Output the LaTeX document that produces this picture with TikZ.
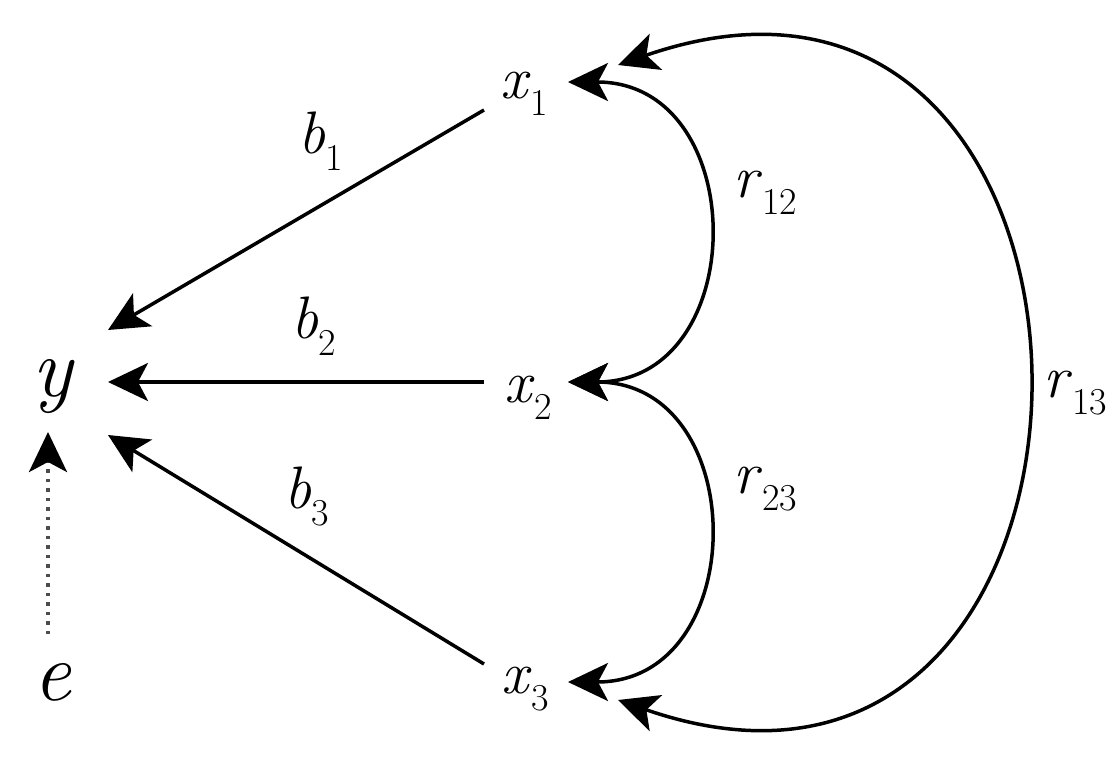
\documentclass[tikz,border=0pt]{standalone}
\usetikzlibrary{arrows.meta}
\newcommand{\vlab}[2]{\textit{#1}\raisebox{-17pt}{\fontsize{38}{40}\selectfont #2}}
\tikzset{
  lbl/.style={inner sep=0pt, anchor=base west, font=\fontsize{60}{62}\selectfont},
  big/.style={inner sep=0pt, anchor=base, font=\fontsize{84}{86}\selectfont\itshape},
  con/.style={line width=3.5pt, -{Stealth[length=40pt,width=38pt,inset=10pt]}},
  dcon/.style={line width=3.5pt, {Stealth[length=40pt,width=38pt,inset=10pt]}-{Stealth[length=40pt,width=38pt,inset=10pt]}},
  dotcon/.style={line width=3.8pt, draw=black!70, dash pattern=on 3.5pt off 6pt, -{Stealth[length=40pt,width=38pt,inset=10pt,black]}}
}
\begin{document}
\begin{tikzpicture}[x=1pt,y=-1pt]
\useasboundingbox (0,0) rectangle (1109,769);
% main nodes
\node[big] (y) at (52,396) {y};
\node[big] (e) at (52,700) {e};
\node[lbl] (x1) at (500,98) {\vlab{x}{1}};
\node[lbl] (x2) at (504,402) {\vlab{x}{2}};
\node[lbl] (x3) at (501,693) {\vlab{x}{3}};
% labels
\node[lbl] (b1) at (298,153) {\vlab{b}{1}};
\node[lbl] (b2) at (291,338) {\vlab{b}{2}};
\node[lbl] (b3) at (284,508) {\vlab{b}{3}};
\node[lbl] (r12) at (733,197) {\vlab{r}{12}};
\node[lbl] (r23) at (733,493) {\vlab{r}{23}};
\node[lbl] (r13) at (1043,397) {\vlab{r}{13}};
% endpoints
\coordinate (x1w) at (484,110);
\coordinate (x2w) at (484,382);
\coordinate (x3w) at (484,664);
\coordinate (yne) at (108,330);
\coordinate (ye) at (108,382);
\coordinate (yse) at (108,435);
\coordinate (eN) at (48,634);
\coordinate (yS) at (48,432);
\coordinate (x1e) at (568,82);
\coordinate (x2e) at (568,382);
\coordinate (x3e) at (568,682);
\coordinate (x1ne) at (618,65);
\coordinate (x3se) at (618,700);
% connectors
\draw[con] (x1w) -- (yne);
\draw[con] (x2w) -- (ye);
\draw[con] (x3w) -- (yse);
\draw[dotcon] (eN) -- (yS);
\draw[dcon] (x1e) .. controls +(184,0) and +(184,0) .. (x2e);
\draw[dcon] (x2e) .. controls +(184,0) and +(184,0) .. (x3e);
\draw[dcon] (x1ne) .. controls +(543,-188) and +(543,188) .. (x3se);
\end{tikzpicture}
\end{document}
